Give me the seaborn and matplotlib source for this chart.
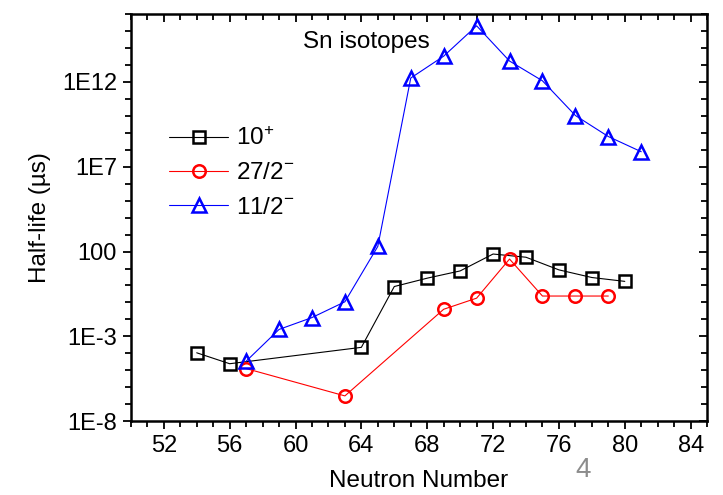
import numpy as np
import pandas as pd
import matplotlib
matplotlib.use('Agg')
import matplotlib.pyplot as plt
import matplotlib.ticker as mticker
import seaborn as sns

# --- data (half-life in microseconds) ---
n_10plus = [54, 56, 64, 66, 68, 70, 72, 74, 76, 78, 80]
t_10plus = [1.1e-4, 2.5e-5, 2.3e-4, 0.87, 2.7, 7.2, 71, 46, 8.3, 2.95, 1.75]

n_27half = [57, 63, 69, 71, 73, 75, 77, 79]
t_27half = [1.3e-5, 3.2e-7, 0.04, 0.18, 36, 0.24, 0.24, 0.24]

n_11half = [57, 59, 61, 63, 65, 67, 69, 71, 73, 75, 77, 79, 81]
t_11half = [3.5e-5, 2.6e-3, 0.013, 0.11, 200, 1.6e12, 3.1e13, 1.9e15,
            1.6e13, 1.1e12, 1.0e10, 5.8e8, 7.4e7]

ytick_vals = [1e-8, 1e-3, 1e2, 1e7, 1e12]
ytick_labels = ['1E-8', '1E-3', '100', '1E7', '1E12']
xtick_vals = [52, 56, 60, 64, 68, 72, 76, 80, 84]

sns.set_theme(style='ticks')
plt.rcParams['font.family'] = ['Liberation Sans', 'DejaVu Sans']
plt.rcParams['mathtext.fontset'] = 'custom'
plt.rcParams['mathtext.rm'] = 'Liberation Sans'
plt.rcParams['mathtext.it'] = 'Liberation Sans'
plt.rcParams['mathtext.default'] = 'regular'
plt.rcParams['text.color'] = 'black'
plt.rcParams['axes.labelcolor'] = 'black'
plt.rcParams['xtick.color'] = 'black'
plt.rcParams['ytick.color'] = 'black'

fig = plt.figure(figsize=(7.23, 4.95), dpi=100)
ax = fig.add_axes([0.181, 0.1485, 0.797, 0.8242])

series = [
    (n_10plus, t_10plus, 's', 'black', r'$10^{+}$'),
    (n_27half, t_27half, 'o', 'red', r'$27/2^{-}$'),
    (n_11half, t_11half, '^', 'blue', r'$11/2^{-}$'),
]
for n, t, mk, col, lab in series:
    df = pd.DataFrame({'N': n, 'T': t})
    sns.lineplot(data=df, x='N', y='T', ax=ax, color=col, lw=0.8,
                 marker=mk, markersize=10 if mk == '^' else 9,
                 markerfacecolor='none', markeredgecolor=col,
                 markeredgewidth=1.8, label=lab)

ax.set_yscale('log')
ax.set_xlim(50, 85)
ax.set_ylim(1e-8, 1e16)

ax.xaxis.set_major_locator(mticker.FixedLocator(xtick_vals))
ax.xaxis.set_minor_locator(mticker.MultipleLocator(1))
ax.yaxis.set_major_locator(mticker.FixedLocator(ytick_vals))
ax.yaxis.set_major_formatter(mticker.FixedFormatter(ytick_labels))
ax.yaxis.set_minor_locator(mticker.FixedLocator([10.0 ** k for k in range(-8, 17)]))
ax.yaxis.set_minor_formatter(mticker.NullFormatter())

ax.tick_params(axis='both', which='both', labelsize=17, width=1.3,
               color='black', labelcolor='black')
ax.tick_params(axis='both', which='major', length=6, pad=4)
ax.tick_params(axis='both', which='minor', length=4)
ax.tick_params(top=True, right=True, which='both')
# mirrored ticks point inward, the labelled ones outward
for t in ax.xaxis.get_major_ticks() + ax.xaxis.get_minor_ticks():
    t.tick2line.set_marker(matplotlib.lines.TICKDOWN)
for t in ax.yaxis.get_major_ticks() + ax.yaxis.get_minor_ticks():
    t.tick2line.set_marker(matplotlib.lines.TICKLEFT)

for sp in ax.spines.values():
    sp.set_linewidth(1.8)
    sp.set_color('black')

ax.set_xlabel('Neutron Number', fontsize=17.5, labelpad=9)
ax.set_ylabel('Half-life (µs)', fontsize=17.5, labelpad=8)

ax.text(64.3, 10 ** 14.3, 'Sn isotopes', fontsize=17.5, ha='center', va='center')

ax.legend(loc='upper left', bbox_to_anchor=(0.05, 0.745), frameon=False,
          fontsize=17.5, handlelength=2.4, handletextpad=0.35, labelspacing=0.5,
          borderaxespad=0)

fig.text(0.806, 0.05, '4', color='#8c8c8c', fontsize=20, ha='center', va='center')

fig.savefig('out.png', dpi=100, facecolor='white')
